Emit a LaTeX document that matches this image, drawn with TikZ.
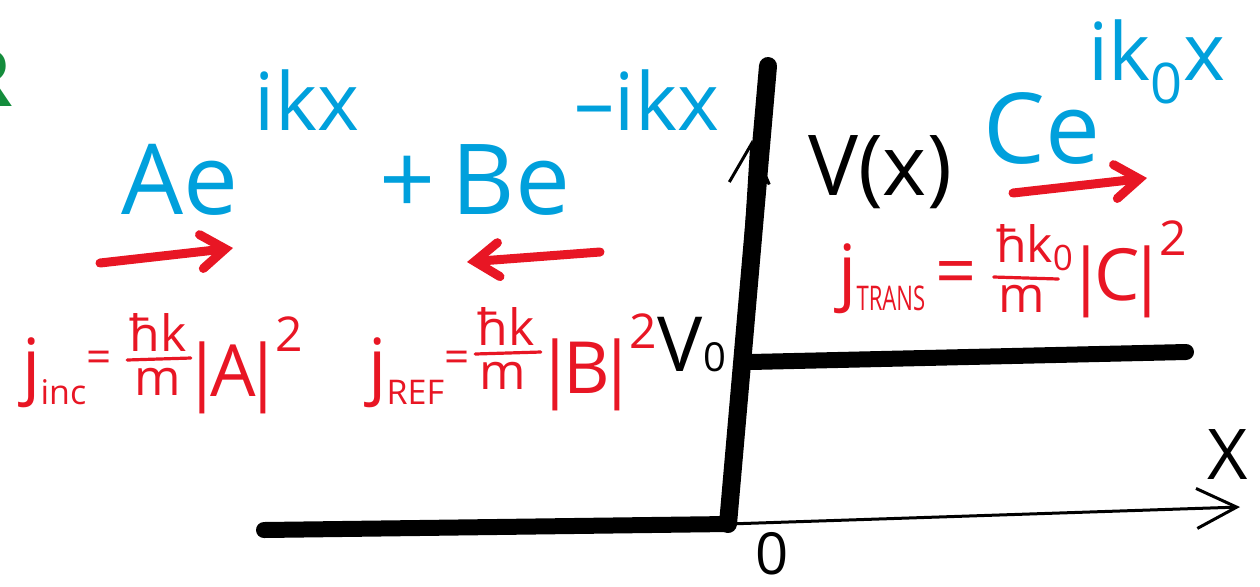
\documentclass[tikz,border=0pt]{standalone}
\usepackage{fontspec}
\setmainfont{Open Sans}
\usepackage{graphicx}
\usepackage{tikz}
\usetikzlibrary{arrows.meta,positioning}
\definecolor{wavecol}{RGB}{0,160,220}
\definecolor{fluxcol}{RGB}{232,22,36}
\definecolor{markcol}{RGB}{20,140,60}
\newcommand{\fluxsub}[1]{\raisebox{-0.2em}{\fontsize{17}{17}\selectfont #1}}
\newcommand{\fluxsup}[1]{\kern3pt\raisebox{0.62em}{\fontsize{24}{24}\selectfont #1}}
\newcommand{\fluxeq}{\raisebox{0.25em}{\fontsize{22}{22}\selectfont =}}
\newcommand{\absval}[1]{\kern-7pt|\kern-6pt#1\kern-6pt|\kern-7pt}

\begin{document}
\begin{tikzpicture}[
  x=0.5pt, y=-0.5pt,
  wave/.style={text=wavecol, inner sep=0pt, font=\fontsize{49}{50}\selectfont},
  phase/.style={text=wavecol, inner sep=0pt, font=\fontsize{40}{40}\selectfont},
  flux/.style={text=fluxcol, inner sep=0pt, font=\fontsize{36}{40}\selectfont},
  fluxpart/.style={text=fluxcol, inner sep=0pt, font=\fontsize{25}{25}\selectfont},
  fluxbar/.style={fluxcol, line width=1.6pt, line cap=round},
  lbl/.style={inner sep=0pt, font=\fontsize{42}{44}\selectfont},
  potential/.style={line width=8pt, line cap=round},
  axis/.style={line width=1.5pt, line cap=round, -{Straight Barb[length=20pt, width=20pt]}},
  arr/.style={fluxcol, line width=4.5pt, line cap=round, -{Straight Barb[length=12pt, width=17pt, line cap=round]}}
]
\useasboundingbox (0,0) rectangle (1260,586);
% wave functions
\node[text=markcol, inner sep=0pt, anchor=east, font=\fontsize{40}{40}\bfseries] (mark) at (13,78) {R};
\node[wave] (inc) at (180,180) {Ae};
\node[phase] (incexp) at (307,100) {ikx};
\node[wave] (ref) at (475,180) {+\hspace{8pt}Be};
\node[phase] (refexp) at (647,100) {--ikx};
\node[wave] (trans) at (1042,128) {Ce};
\node[phase] (transexp) at (1157,62) {ik\textsubscript{0}x};
% currents
\coordinate (inctail) at (100,263);
\coordinate (inchead) at (233,248);
\coordinate (reftail) at (600,252);
\coordinate (refhead) at (467,262);
\coordinate (transtail) at (1013,193);
\coordinate (transhead) at (1147,178);
\draw[arr] (inctail) -- (inchead);
\draw[arr] (reftail) -- (refhead);
\draw[arr] (transtail) -- (transhead);
% incident current
\node[flux, anchor=base west] (jinc) at (22,390) {j\fluxsub{inc}\fluxeq};
\node[fluxpart, anchor=south] (incnum) at (158,352) {ħk};
\node[fluxpart, anchor=north] (incden) at (158,368) {m};
\draw[fluxbar] ([xshift=-1pt, yshift=-4pt]incnum.south west) -- ([xshift=2pt, yshift=-3pt]incnum.south east);
\node[flux, anchor=base west] (incabs) at (196,396) {\absval{A}\fluxsup{2}};
% reflected current
\node[flux, anchor=base west] (jref) at (368,390) {j\fluxsub{REF}\fluxeq};
\node[fluxpart, anchor=south] (refnum) at (506,346) {ħk};
\node[fluxpart, anchor=north] (refden) at (503,362) {m};
\draw[fluxbar] ([xshift=-1pt, yshift=-4pt]refnum.south west) -- ([xshift=3pt, yshift=-3pt]refnum.south east);
\node[flux, anchor=base west] (refabs) at (549,393) {\absval{B}\fluxsup{2}};
% transmitted current
\node[flux, anchor=base west] (jtrans) at (838,296) {j\raisebox{-0.2em}{\fontsize{17}{17}\selectfont\scalebox{0.65}[1]{TRANS}}\kern5pt=};
\node[fluxpart, anchor=south] (transnum) at (1035,271) {ħk\textsubscript{0}};
\node[fluxpart, anchor=north] (transden) at (1022,285) {m};
\draw[fluxbar] ([xshift=-1pt, yshift=-3pt]transnum.south west) -- ([xshift=-8pt, yshift=-4pt]transnum.south east);
\node[flux, anchor=base west] (transabs) at (1080,300) {\absval{C}\fluxsup{2}};
% potential step
\coordinate (origin) at (728,524);
\coordinate (vtop) at (768,66);
\coordinate (vtip) at (752,140);
\coordinate (far) at (264,530);
\coordinate (stepl) at (750,362);
\coordinate (stepr) at (1186,352);
\coordinate (xtip) at (1240,507);
\draw[axis] (origin) -- (vtip);
\draw[axis] (origin) -- (xtip);
\draw[potential, line width=9pt] (origin) -- (vtop);
\draw[potential] (far) -- (origin);
\draw[potential] (stepl) -- (stepr);
\node[lbl, anchor=base] (vlabel) at (880,195) {V(x)};
\node[lbl, font=\fontsize{38}{40}\selectfont] (vzero) at (692,345) {V{\fontsize{20}{20}\selectfont 0}};
\node[lbl, font=\fontsize{35}{36}\selectfont] (xlabel) at (1228,455) {X};
\node[lbl, font=\fontsize{29}{30}\selectfont] (zero) at (772,554) {0};
\end{tikzpicture}
\end{document}
